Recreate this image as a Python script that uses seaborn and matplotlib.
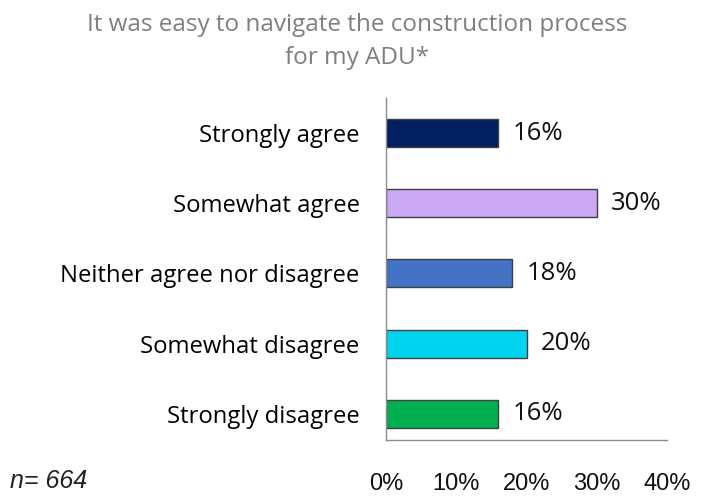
import matplotlib
matplotlib.use("Agg")
from matplotlib import pyplot as plt
import pandas as pd
import seaborn as sns

# data
categories = ["Strongly agree", "Somewhat agree", "Neither agree nor disagree",
              "Somewhat disagree", "Strongly disagree"]
shares = [16, 30, 18, 20, 16]
colors = ["#002060", "#CCA9F5", "#4472C4", "#00D3EE", "#00B050"]
xticks = [0, 10, 20, 30, 40]

sns.set_style("white")
plt.rcParams['font.family'] = ['Open Sans', 'DejaVu Sans']
narrow = ['Liberation Sans Narrow', 'Liberation Sans']

df = pd.DataFrame({"category": categories, "share": shares})

fig = plt.figure(figsize=(7.12, 4.97), dpi=100)
ax = fig.add_axes([0.542, 0.115, 0.395, 0.688])

sns.barplot(data=df, x="share", y="category", hue="category",
            palette=colors, order=categories, legend=False, width=0.4,
            saturation=1, edgecolor="#404040", linewidth=1.0, ax=ax)

for i, v in enumerate(shares):
    ax.text(v + 2.0, i, f"{v}%", va="center", ha="left", fontsize=18.5, color="#111111")

ax.set_xlim(0, 40)
ax.set_ylim(4.37, -0.5)
ax.set_xticks(xticks)
ax.set_xticklabels([f"{t}%" for t in xticks], family=narrow, fontsize=17, color="#111111")
ax.tick_params(axis='x', length=0, pad=24)
ax.tick_params(axis='y', length=0, pad=19, labelsize=17.2, labelcolor="#000000")
ax.set_xlabel("")
ax.set_ylabel("")

for s in ["top", "right"]:
    ax.spines[s].set_visible(False)
for s in ["left", "bottom"]:
    ax.spines[s].set_color("#8c8c8c")
    ax.spines[s].set_linewidth(1.0)

fig.text(0.502, 0.950, "It was easy to navigate the construction process",
         ha="center", va="center", fontsize=17.5, color="#7f7f7f")
fig.text(0.502, 0.884, "for my ADU*", ha="center", va="center", fontsize=17.5, color="#7f7f7f")
fig.text(0.014, 0.032, "n= 664", ha="left", va="center", fontsize=18, style="italic",
         family=narrow, color="#222222")

fig.savefig("out.png", dpi=100)
